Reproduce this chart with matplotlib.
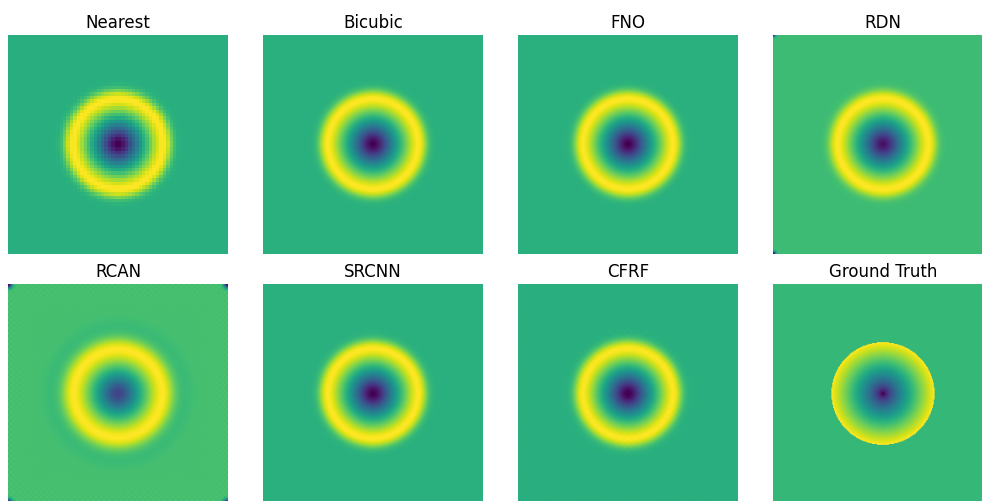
import numpy as np
import matplotlib.pyplot as plt

titles = ["Nearest", "Bicubic", "FNO", "RDN", "RCAN", "SRCNN", "CFRF", "Ground Truth"]

hr_size = 256
lr_size = 64
radius = 0.47            # disk radius, domain is [-1, 1]
profile_power = 0.7      # value inside the disk rises as (r / radius) ** power
gt_background = 0.68     # value outside the disk
# background level and blur (in hr pixels) for each reconstruction
recon_background = [0.635, 0.635, 0.635, 0.66, 0.63, 0.635, 0.635]
recon_blur = [5.5, 5.5, 5.5, 5.5, 7.0, 5.5, 5.5]
# how deep the corner artefacts go (RDN: left corners, RCAN: all four)
rdn_corner_dip = 0.48
rcan_corner_dip = 0.55


def blur(img, sigma):
    k = np.arange(-int(3 * sigma) - 1, int(3 * sigma) + 2)
    w = np.exp(-k**2 / (2 * sigma**2))
    w /= w.sum()
    p = np.pad(img, len(k) // 2, mode="edge")
    p = np.apply_along_axis(lambda v: np.convolve(v, w, mode="valid"), 0, p)
    p = np.apply_along_axis(lambda v: np.convolve(v, w, mode="valid"), 1, p)
    return p


x = np.linspace(-1, 1, hr_size)
xx, yy = np.meshgrid(x, x)
r = np.hypot(xx, yy)


def disk(bg):
    return np.where(r < radius, (r / radius) ** profile_power, bg)


def corner_spot(cx, cy, width):
    return np.exp(-((xx - cx)**2 + (yy - cy)**2) / width)


gt = disk(gt_background)

fields = []
for i, name in enumerate(titles[:-1]):
    f = blur(disk(recon_background[i]), recon_blur[i])
    if name == "Nearest":
        f = f.reshape(lr_size, hr_size // lr_size, lr_size, hr_size // lr_size).mean(axis=(1, 3))
    if name == "RDN":
        f = f - rdn_corner_dip * (corner_spot(-1, 1, 0.0004) + corner_spot(-1, -1, 0.0004))
    if name == "RCAN":
        edge = np.minimum(1 - np.abs(xx), 1 - np.abs(yy))
        f = f + 0.015 * np.exp(-edge / 0.12) * np.cos(np.pi * xx * 40) * np.cos(np.pi * yy * 40)
        f = f - 0.02 * np.exp(-((r - 1.3 * radius) / 0.08)**2)
        for cx in (-1, 1):
            for cy in (-1, 1):
                f = f - rcan_corner_dip * corner_spot(cx, cy, 0.001)
    if name == "CFRF":
        f = f + 0.003 * np.cos(np.pi * xx * 30) * np.cos(np.pi * yy * 30)
    fields.append(f)
fields.append(gt)

fig = plt.figure(figsize=(9.82, 5.02), dpi=100)
W, H = 982, 502
lefts = [8, 263, 518, 773]
tops = [36, 285]
for i, (name, f) in enumerate(zip(titles, fields)):
    row, col = divmod(i, 4)
    ax = fig.add_axes([lefts[col] / W, (H - tops[row] - 219) / H, 220 / W, 219 / H])
    interp = "nearest" if name == "Nearest" else ("bicubic" if name == "Bicubic" else "antialiased")
    ax.imshow(f, cmap="viridis", interpolation=interp, aspect="auto")
    ax.set_title(name, fontsize=12, pad=6)
    ax.axis("off")

fig.savefig("out.png", dpi=100)
